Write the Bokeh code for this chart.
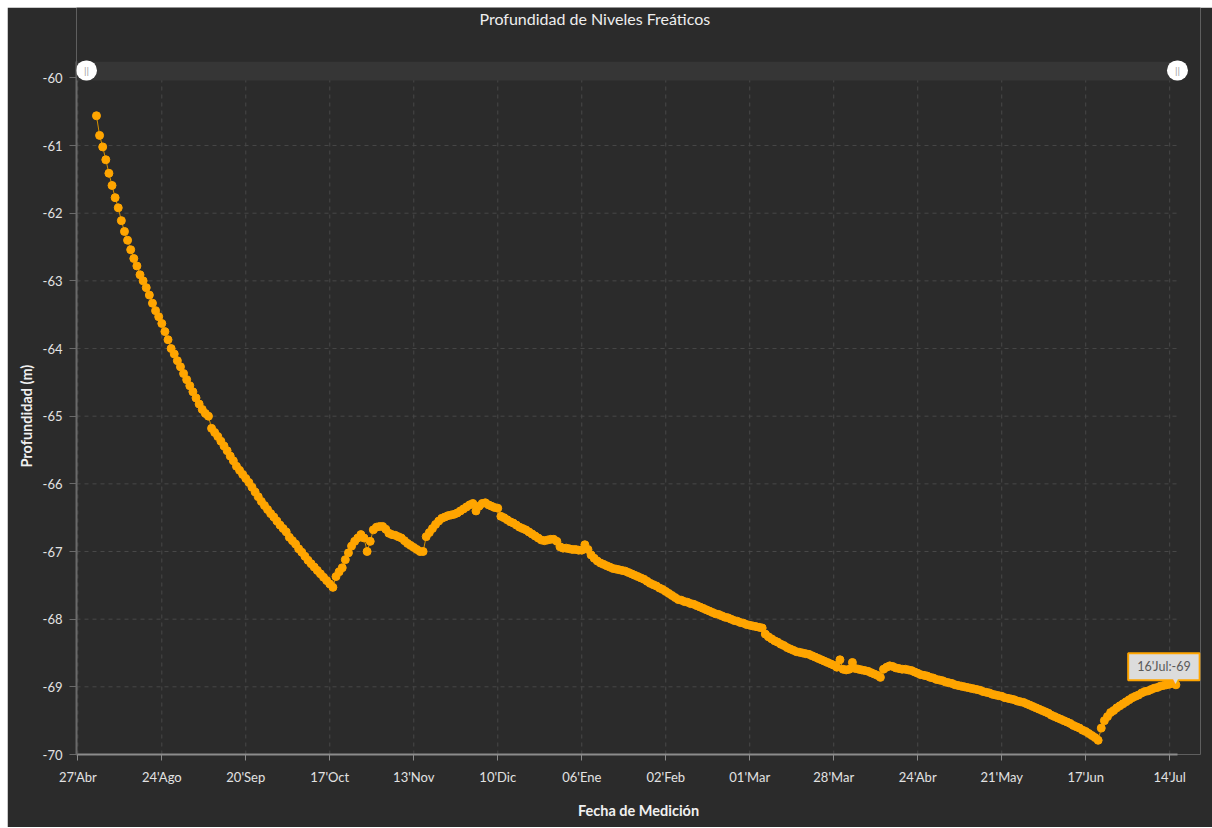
import pandas as pd
from bokeh.plotting import figure
from bokeh.models import Range1d, FixedTicker, BoxAnnotation, Label, ColumnDataSource, Title
from bokeh.embed import file_html
from bokeh.resources import INLINE

# ---------------- data ----------------
title_text = "Profundidad de Niveles Freáticos"
x_label = "Fecha de Medición"
y_label = "Profundidad (m)"
tooltip_text = "16'Jul:-69"
start_date = "2018-08-03"

aug_2018 = [-60.56, -60.85, -61.02, -61.21, -61.41, -61.59, -61.77, -61.92, -62.11, -62.27,
            -62.40, -62.54, -62.67, -62.78, -62.91, -63.00, -63.10, -63.21, -63.33, -63.44,
            -63.53, -63.63, -63.75, -63.87, -64.00, -64.08, -64.18, -64.27, -64.37]
sep_2018 = [-64.46, -64.55, -64.64, -64.73, -64.82, -64.90, -64.96, -65.00, -65.18, -65.24,
            -65.30, -65.37, -65.44, -65.51, -65.59, -65.66, -65.74, -65.80, -65.86, -65.92,
            -65.98, -66.05, -66.12, -66.19, -66.26, -66.32, -66.38, -66.44, -66.49, -66.55]
oct_2018 = [-66.61, -66.66, -66.71, -66.79, -66.84, -66.89, -66.96, -67.01, -67.07, -67.13,
            -67.18, -67.23, -67.28, -67.33, -67.38, -67.43, -67.48, -67.53, -67.37, -67.30,
            -67.24, -67.12, -67.02, -66.92, -66.85, -66.80, -66.75, -66.80, -67.00, -66.85,
            -66.68]
nov_2018 = [-66.64, -66.63, -66.63, -66.67, -66.73, -66.75, -66.76, -66.78, -66.80, -66.84,
            -66.88, -66.91, -66.94, -66.97, -67.00, -67.00, -66.78, -66.72, -66.66, -66.60,
            -66.55, -66.51, -66.49, -66.47, -66.46, -66.45, -66.43, -66.40, -66.37, -66.34]
dec_2018 = [-66.31, -66.29, -66.40, -66.33, -66.29, -66.28, -66.31, -66.33, -66.35, -66.36,
            -66.48, -66.50, -66.53, -66.56, -66.58, -66.61, -66.64, -66.66, -66.68, -66.71,
            -66.74, -66.77, -66.80, -66.83, -66.84, -66.83, -66.82, -66.82, -66.85, -66.93,
            -66.95]
jan_2019 = [-66.95, -66.96, -66.97, -66.97, -66.98, -66.98, -66.90, -66.97, -67.05, -67.10,
            -67.14, -67.17, -67.19, -67.21, -67.23, -67.25, -67.26, -67.27, -67.28, -67.29,
            -67.31, -67.33, -67.35, -67.37, -67.39, -67.41, -67.44, -67.47, -67.49, -67.51,
            -67.54]
feb_2019 = [-67.56, -67.59, -67.62, -67.65, -67.68, -67.71, -67.72, -67.74, -67.75, -67.77,
            -67.78, -67.80, -67.82, -67.84, -67.86, -67.88, -67.90, -67.92, -67.93, -67.95,
            -67.97, -67.98, -68.00, -68.02, -68.03, -68.05, -68.06, -68.08]
mar_2019 = [-68.09, -68.10, -68.11, -68.12, -68.13, -68.22, -68.26, -68.29, -68.32, -68.34,
            -68.37, -68.39, -68.42, -68.44, -68.46, -68.48, -68.49, -68.50, -68.51, -68.52,
            -68.54, -68.56, -68.58, -68.60, -68.62, -68.64, -68.66, -68.68, -68.71, -68.60,
            -68.74]
apr_2019 = [-68.75, -68.74, -68.64, -68.73, -68.74, -68.75, -68.76, -68.77, -68.79, -68.81,
            -68.83, -68.86, -68.74, -68.71, -68.69, -68.70, -68.72, -68.73, -68.74, -68.74,
            -68.75, -68.76, -68.78, -68.80, -68.82, -68.83, -68.84, -68.86, -68.87, -68.89]
may_2019 = [-68.90, -68.91, -68.93, -68.94, -68.95, -68.97, -68.98, -68.99, -69.00, -69.01,
            -69.02, -69.03, -69.04, -69.05, -69.07, -69.08, -69.09, -69.11, -69.12, -69.13,
            -69.14, -69.16, -69.17, -69.18, -69.19, -69.21, -69.22, -69.23, -69.25, -69.27,
            -69.29]
jun_2019 = [-69.31, -69.33, -69.35, -69.37, -69.39, -69.42, -69.44, -69.46, -69.48, -69.50,
            -69.52, -69.54, -69.57, -69.59, -69.61, -69.64, -69.66, -69.69, -69.72, -69.75,
            -69.79, -69.61, -69.50, -69.44, -69.38, -69.35, -69.31, -69.28, -69.25, -69.22]
jul_2019 = [-69.19, -69.16, -69.14, -69.12, -69.09, -69.07, -69.06, -69.04, -69.02, -69.01,
            -68.99, -68.98, -68.97, -68.96, -68.94, -68.97]

tick_dates = ["2018-07-28", "2018-08-24", "2018-09-20", "2018-10-17", "2018-11-13",
              "2018-12-10", "2019-01-06", "2019-02-02", "2019-03-01", "2019-03-28",
              "2019-04-24", "2019-05-21", "2019-06-17", "2019-07-14"]
tick_labels = ["27'Abr", "24'Ago", "20'Sep", "17'Oct", "13'Nov", "10'Dic", "06'Ene",
               "02'Feb", "01'Mar", "28'Mar", "24'Abr", "21'May", "17'Jun", "14'Jul"]
y_ticks = [-70, -69, -68, -67, -66, -65, -64, -63, -62, -61, -60]
y_tick_labels = ["-70", "-69", "-68", "-67", "-66", "-65", "-64", "-63", "-62", "-61", "-60"]

depth = (aug_2018 + sep_2018 + oct_2018 + nov_2018 + dec_2018 + jan_2019 + feb_2019 +
         mar_2019 + apr_2019 + may_2019 + jun_2019 + jul_2019)
dates = pd.date_range(start_date, periods=len(depth), freq="D")
source = ColumnDataSource(dict(date=dates, depth=depth))


def ms(s):
    return int(pd.Timestamp(s).value // 10**6)


DAY = 86400000
x_start = ms("2018-07-28") - 0.42 * DAY      # y-axis position
x_axis_end = ms("2019-07-16") + 0.5 * DAY    # end of the x-axis line
x_frame_end = ms("2019-07-16") + 7.9 * DAY   # room for the tooltip
y_min, y_axis_top, y_frame_top = -70, -59.76, -58.96
band_bottom = -60.04
title_x = ms("2019-01-10") + 0.2 * DAY
title_y = -59.124
handle_y = -59.89

BG = "#2b2b2b"
FONT = "Lato"
GRID = "#484848"

p = figure(width=1205, height=820, x_axis_type="datetime", title=None,
           x_range=Range1d(x_start, x_frame_end), y_range=Range1d(y_min, y_frame_top),
           output_backend="svg", toolbar_location=None, margin=(7, 0, 0, 7),
           min_border_left=69, min_border_right=12, min_border_top=0, min_border_bottom=73)
p.background_fill_color = BG
p.border_fill_color = BG
p.outline_line_color = None

# axes
tick_ms = [ms(d) for d in tick_dates]
p.xaxis.ticker = FixedTicker(ticks=tick_ms)
p.xaxis.major_label_overrides = {t: l for t, l in zip(tick_ms, tick_labels)}
p.xaxis.bounds = (x_start, x_axis_end)
p.yaxis.ticker = FixedTicker(ticks=y_ticks)
p.yaxis.major_label_overrides = {t: l for t, l in zip(y_ticks, y_tick_labels)}
p.yaxis.bounds = (y_min, y_axis_top)

for ax in (p.xaxis[0], p.yaxis[0]):
    ax.major_label_text_color = "#e2e2e2"
    ax.major_label_text_font = FONT
    ax.major_label_text_font_size = "13px"
    ax.axis_label_text_color = "#f0f0f0"
    ax.axis_label_text_font = FONT
    ax.axis_label_text_font_size = "14.5px"
    ax.axis_label_text_font_style = "bold"
    ax.minor_tick_line_color = None
    ax.major_tick_in = 0
    ax.axis_line_width = 2

p.xaxis.axis_label = x_label
p.xaxis.axis_line_color = "#8c8c8c"
p.xaxis.major_tick_line_color = "#8c8c8c"
p.xaxis.major_tick_out = 6
p.xaxis.major_label_standoff = 8
p.xaxis.axis_label_standoff = 14

p.yaxis.axis_line_color = "#6a6a6a"
p.yaxis.major_tick_line_color = "#6a6a6a"
p.yaxis.major_tick_out = 7
p.yaxis.major_label_standoff = 7

# y-axis title, placed along the axis extent (not the whole frame)
p.add_layout(Title(text=y_label, align="left", offset=287, standoff=10,
                   text_color="#f0f0f0", text_font=FONT, text_font_size="14.5px",
                   text_font_style="bold"), "left")

# grid lines drawn from the tick arrays, limited to the axis extent
p.xgrid.visible = False
p.ygrid.visible = False
p.segment(x0=[x_start] * len(y_ticks), x1=[x_axis_end] * len(y_ticks),
          y0=y_ticks, y1=y_ticks, line_color=GRID, line_dash="4 4", line_width=1,
          level="underlay")
p.segment(x0=tick_ms, x1=tick_ms, y0=[y_min] * len(tick_ms), y1=[y_axis_top] * len(tick_ms),
          line_color=GRID, line_dash="4 4", line_width=1, level="underlay")

# scrollbar band
p.add_layout(BoxAnnotation(left=x_start, right=x_axis_end, bottom=band_bottom, top=y_axis_top,
                           fill_color="#363636", fill_alpha=1, line_color=None))

# data
p.line(x="date", y="depth", source=source, line_color="#d89200", line_width=1)
p.scatter(x="date", y="depth", source=source, size=8, fill_color="#ffa500",
          line_color="#ffa500")

# title
p.add_layout(Label(x=title_x, y=title_y, text=title_text, text_align="center",
                   text_baseline="middle", text_color="#eeeeee", text_font=FONT,
                   text_font_size="16px"))

# scrollbar handles
for hx, off in ((x_start, 10), (x_axis_end, 0)):
    p.add_layout(Label(x=hx, y=handle_y, x_offset=off, text="||", text_align="center",
                       text_baseline="middle", text_color="#9a9a9a", text_font=FONT,
                       text_font_size="10px", background_fill_color="white",
                       border_radius=10,
                       padding=dict(left=8, right=8, top=4, bottom=4)))

# tooltip
p.add_layout(Label(x=dates[-1], y=depth[-1], x_offset=-12, y_offset=18, text=tooltip_text,
                   text_align="center", text_baseline="middle", text_color="#5a5a5a",
                   text_font=FONT, text_font_size="12.5px", background_fill_color="#dcdcdc",
                   border_line_color="#ffa500", border_line_width=2,
                   padding=dict(left=9, right=9, top=6, bottom=6)))
p.add_layout(Label(x=dates[-1], y=depth[-1], y_offset=4, text="▼", text_align="center",
                   text_baseline="middle", text_color="#dcdcdc", text_font="DejaVu Sans",
                   text_font_size="8px"))

open("out.html", "w").write(file_html(p, INLINE))
